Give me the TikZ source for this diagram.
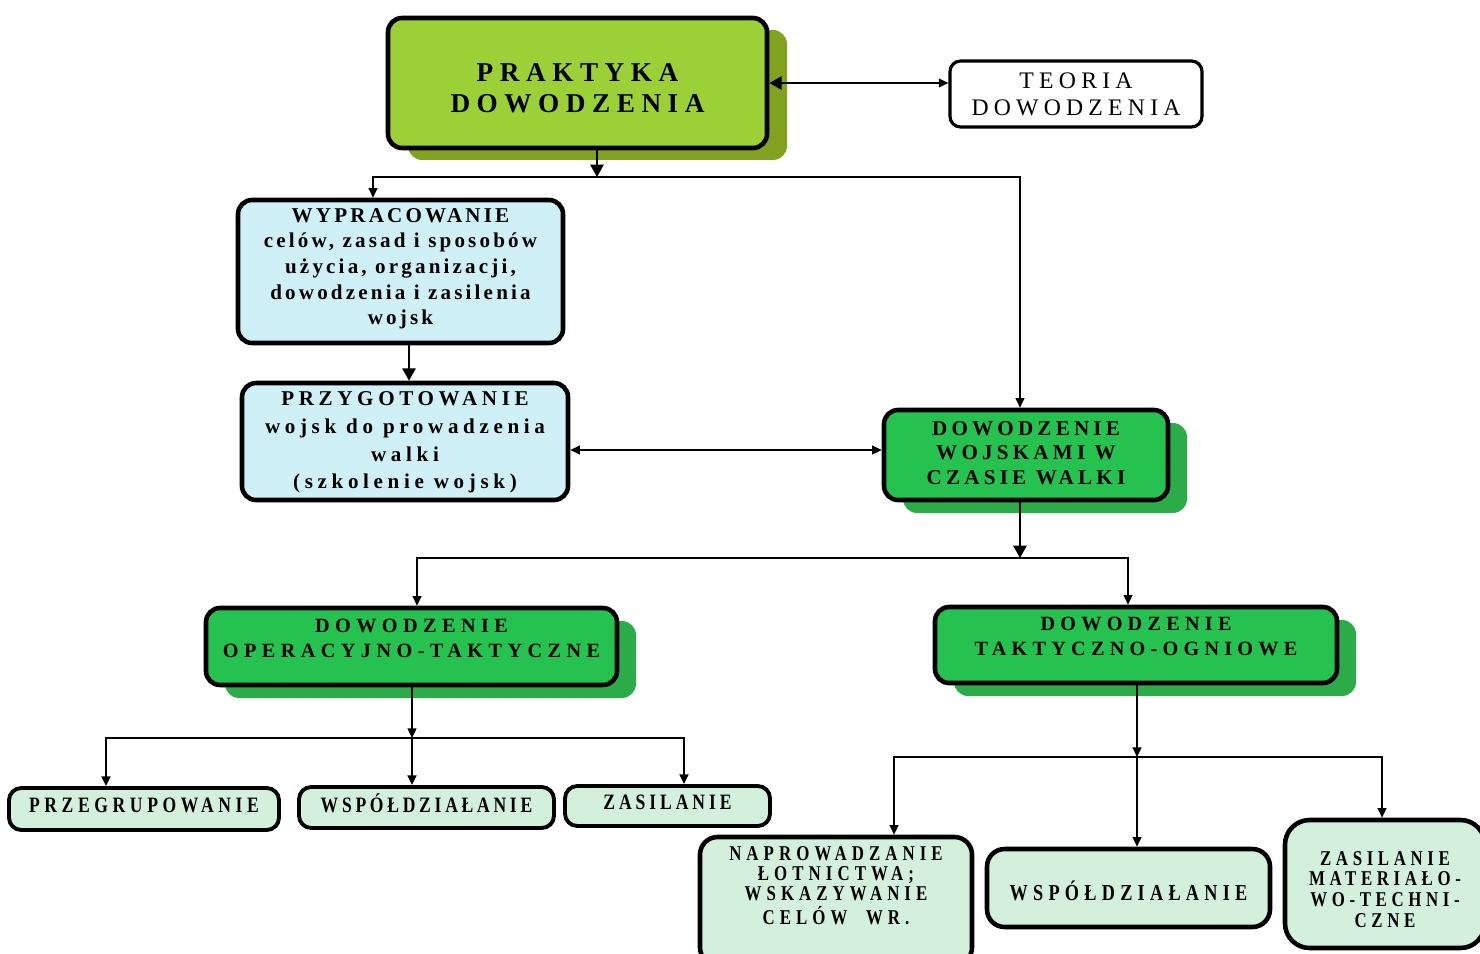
\documentclass[tikz,border=0pt]{standalone}
\usepackage{fontspec}
\setmainfont{Liberation Serif}
\usetikzlibrary{arrows.meta,shadows}

\definecolor{limefill}{RGB}{155,208,55}
\definecolor{limeshade}{RGB}{128,162,30}
\definecolor{greenfill}{RGB}{38,194,80}
\definecolor{greenshade}{RGB}{44,172,72}
\definecolor{cyanfill}{RGB}{207,240,246}
\definecolor{mintfill}{RGB}{210,240,220}

% bold spaced type: size, baseline skip, letter spacing
\newcommand\tf[3]{\fontsize{#1}{#2}\selectfont\bfseries\addfontfeatures{LetterSpace=#3}}
% the same, set narrower
\newcommand\nf[3]{\fontsize{#1}{#2}\selectfont\bfseries\addfontfeatures{LetterSpace=#3,FakeStretch=0.8}}
% centred lines, moved up by #1 inside their box
\newcommand\lift[2]{\raisebox{#1}[\height][\depth]{\begin{tabular}{@{}c@{}}#2\end{tabular}}}

\tikzset{
  box/.style={draw=black, rounded corners=8pt, line width=2.6pt, inner sep=0pt},
  thinbox/.style={draw=black, rounded corners=7pt, line width=2.2pt, inner sep=0pt},
  sz/.style 2 args={minimum width=#1*0.02cm, minimum height=#2*0.02cm},
  limeshadow/.style={general shadow={fill=limeshade, shadow xshift=0.4cm, shadow yshift=-0.24cm}},
  greenshadow/.style={general shadow={fill=greenshade, shadow xshift=0.38cm, shadow yshift=-0.26cm}},
  conn/.style={line width=1.1pt, draw=black},
  sm/.tip={Triangle[length=5.5pt,width=5pt]},
  bg/.tip={Triangle[length=7pt,width=7.5pt]},
}

\begin{document}
\begin{tikzpicture}[x=0.02cm, y=-0.02cm]
\useasboundingbox (0,0) rectangle (1480,953);

% ---- boxes ----
\node[box, sz={379}{130}, fill=limefill, limeshadow, font=\tf{15.5}{17.6}{24}] (prak) at (577.5,83)
  {\lift{-4.7pt}{PRAKTYKA\\DOWODZENIA}};
\node[box, line width=1.8pt, rounded corners=6pt, sz={252}{66}, fill=white,
      font={\fontsize{13.5}{15.3}\selectfont\addfontfeatures{LetterSpace=22}}] (teor) at (1076,94)
  {\lift{-1.7pt}{TEORIA\\DOWODZENIA}};
\node[box, sz={325}{143}, fill=cyanfill, font=\tf{12}{14.6}{15}] (wypr) at (400.5,271.5)
  {\lift{1.7pt}{WYPRACOWANIE\\celów, zasad i sposobów\\użycia, organizacji,\\dowodzenia i zasilenia\\wojsk}};
\node[box, sz={326}{117}, fill=cyanfill, font=\tf{12}{15.9}{22}] (przy) at (405,441.5)
  {\lift{0pt}{PRZYGOTOWANIE\\wojsk do prowadzenia\\walki\\(szkolenie wojsk)}};
\node[box, sz={284}{90}, fill=greenfill, greenshadow, font=\tf{12}{14.2}{20}] (dwcw) at (1026,455)
  {\lift{0pt}{DOWODZENIE\\WOJSKAMI W\\CZASIE WALKI}};
\node[box, sz={411}{77}, fill=greenfill, greenshadow, font=\tf{11.5}{14.2}{27}] (oper) at (411.5,646.5)
  {\lift{3.7pt}{DOWODZENIE\\OPERACYJNO-TAKTYCZNE}};
\node[box, sz={402}{76}, fill=greenfill, greenshadow, font=\tf{11.5}{14.2}{26}] (takt) at (1136,645)
  {\lift{4pt}{DOWODZENIE\\TAKTYCZNO-OGNIOWE}};

\node[thinbox, sz={270}{42}, fill=mintfill, font=\nf{12.5}{13}{21}] (przg) at (144,809)
  {\lift{0.6pt}{PRZEGRUPOWANIE}};
\node[thinbox, sz={255}{41}, fill=mintfill, font=\nf{12.5}{13}{17}] (wsp1) at (426.5,807.5)
  {\lift{0.6pt}{WSPÓŁDZIAŁANIE}};
\node[thinbox, sz={205}{40}, fill=mintfill, font=\nf{12.5}{13}{18}] (zas1) at (667.5,806)
  {\lift{0.6pt}{ZASILANIE}};

\node[box, rounded corners=10pt, sz={272}{128}, fill=mintfill, font=\nf{12}{11.3}{24}] (napr) at (836,901)
  {\lift{7.1pt}{NAPROWADZANIE\\ŁOTNICTWA;\\WSKAZYWANIE\\CELÓW \ WR.}};
\node[box, rounded corners=10pt, sz={283}{78}, fill=mintfill, font=\nf{13}{14}{23}] (wsp2) at (1128.5,888)
  {\lift{-3.9pt}{WSPÓŁDZIAŁANIE}};
\node[box, rounded corners=14pt, sz={200}{128}, fill=mintfill, font=\nf{12}{11.7}{22}] (zas2) at (1385,884)
  {\lift{-4.6pt}{ZASILANIE\\MATERIAŁO-\\WO-TECHNI-\\CZNE}};

% ---- junction points ----
\coordinate (j1)  at (597,177);
\coordinate (j1l) at (373,177);
\coordinate (j1r) at (1020,177);
\coordinate (ly)  at (0,450);
\coordinate (j2)  at (1020,558);
\coordinate (j2l) at (417,558);
\coordinate (j2r) at (1128,558);
\coordinate (j3)  at (412,738);
\coordinate (j3l) at (106,738);
\coordinate (j3r) at (684,738);
\coordinate (j4)  at (1137,757);
\coordinate (j4l) at (894,757);
\coordinate (j4r) at (1382,757);

% ---- connectors ----
\draw[conn, {bg}-{sm}] (prak.east) -- (teor.west |- prak.east);
\draw[conn, -{bg}] (prak.south -| j1) -- (j1);
\draw[conn, -{sm}] (j1) -| (wypr.north -| j1l);
\draw[conn, -{sm}] (j1) -| (dwcw.north -| j1r);
\draw[conn, -{bg}] (wypr.south -| 409,0) -- (przy.north -| 409,0);
\draw[conn, {sm}-{sm}] (przy.east |- ly) -- (dwcw.west |- ly);

\draw[conn, -{bg}] (dwcw.south -| j2) -- (j2);
\draw[conn, -{sm}] (j2) -| (oper.north -| j2l);
\draw[conn, -{sm}] (j2) -| (takt.north -| j2r);

\draw[conn, -{sm}] (oper.south -| j3) -- (j3);
\draw[conn, -{sm}] (j3) -| (przg.north -| j3l);
\draw[conn, -{sm}] (j3) -- (wsp1.north -| j3);
\draw[conn, -{sm}] (j3) -| (zas1.north -| j3r);

\draw[conn, -{sm}] (takt.south -| j4) -- (j4);
\draw[conn, -{sm}] (j4) -| (napr.north -| j4l);
\draw[conn, -{sm}] (j4) -- (wsp2.north -| j4);
\draw[conn, -{sm}] (j4) -| (zas2.north -| j4r);
\end{tikzpicture}
\end{document}
